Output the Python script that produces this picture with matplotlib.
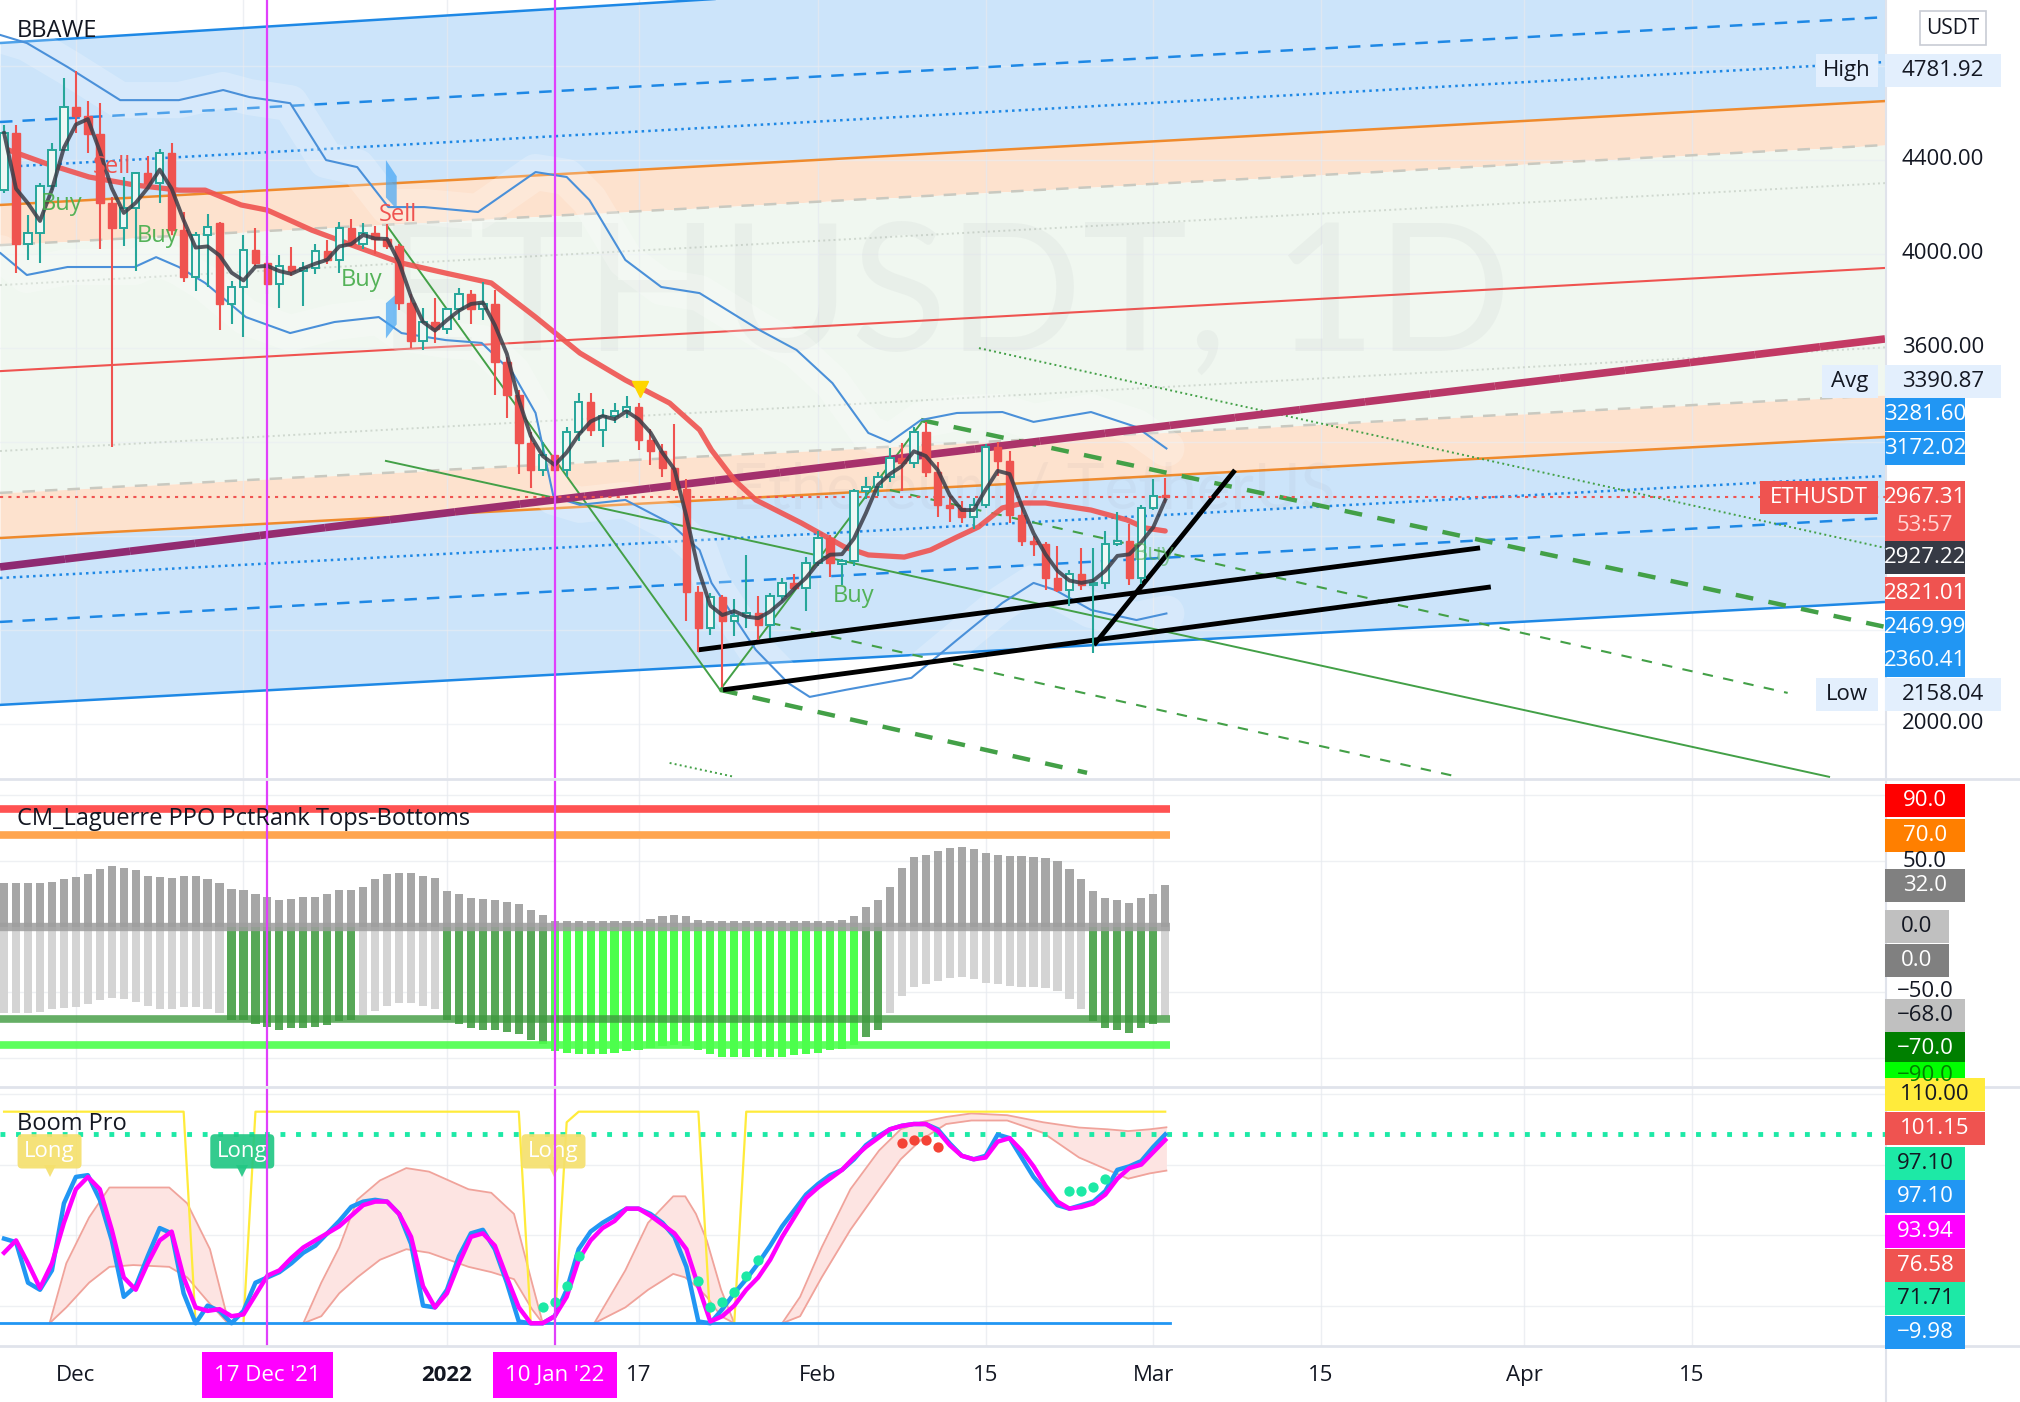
import numpy as np
import pandas as pd
import matplotlib.pyplot as plt
from matplotlib.patches import Rectangle, Polygon
from matplotlib.collections import LineCollection
from matplotlib.transforms import blended_transform_factory

plt.rcParams['font.family'] = ['Open Sans', 'DejaVu Sans']

# ---------------- data (day 0 = 1 Jan 2022, daily bars 25 Nov 2021 .. 2 Mar 2022)
day = np.arange(-37, 61)
op = [4271, 4514, 4040, 4090, 4290, 4441, 4624, 4586, 4510, 4215,
      4112, 4195, 4345, 4300, 4430, 4100, 3900, 4080, 4130, 3785,
      3860, 4016, 3960, 3870, 3950, 3925, 3940, 4010, 3975, 4110,
      4040, 4090, 4065, 4035, 3790, 3630, 3710, 3680, 3765, 3830,
      3765, 3785, 3540, 3400, 3195, 3080, 3145, 3080, 3240, 3370,
      3250, 3310, 3330, 3350, 3210, 3160, 3090, 3000, 2560, 2410,
      2540, 2440, 2460, 2470, 2420, 2545, 2600, 2580, 2685, 2790,
      2680, 2692, 2990, 3010, 3050, 3130, 3110, 3240, 3070, 2930,
      2920, 2880, 2930, 3180, 3120, 2890, 2780, 2765, 2620, 2570,
      2640, 2590, 2600, 2765, 2780, 2620, 2920, 2975]
hi = [4550, 4550, 4165, 4300, 4470, 4750, 4778, 4650, 4640, 4240,
      4325, 4350, 4415, 4445, 4470, 4180, 4095, 4170, 4135, 3885,
      4080, 4110, 3990, 3995, 4030, 3965, 4040, 4060, 4135, 4150,
      4130, 4120, 4125, 4040, 3830, 3770, 3812, 3770, 3855, 3845,
      3880, 3845, 3560, 3420, 3240, 3200, 3160, 3265, 3410, 3410,
      3340, 3365, 3395, 3365, 3255, 3190, 3275, 3040, 2585, 2555,
      2550, 2530, 2720, 2545, 2555, 2620, 2640, 2710, 2820, 2805,
      2700, 3000, 3050, 3070, 3175, 3197, 3265, 3285, 3115, 2970,
      2950, 2960, 3190, 3200, 3160, 2945, 2800, 2775, 2755, 2655,
      2750, 2750, 2820, 2900, 2850, 2930, 3040, 3045]
lo = [4260, 3918, 3975, 3960, 4270, 4436, 4514, 4430, 4020, 3180,
      4035, 3925, 4280, 4215, 4080, 3880, 3840, 3860, 3675, 3700,
      3646, 3950, 3830, 3770, 3905, 3780, 3915, 3955, 3920, 4030,
      4020, 4000, 4020, 3760, 3600, 3590, 3620, 3660, 3720, 3700,
      3720, 3400, 3300, 3065, 3005, 3055, 2965, 3050, 3205, 3225,
      3180, 3280, 3300, 3165, 3100, 3050, 2990, 2440, 2305, 2380,
      2158, 2375, 2410, 2355, 2365, 2525, 2570, 2480, 2670, 2625,
      2590, 2670, 2955, 2970, 3030, 2990, 3090, 3050, 2880, 2860,
      2855, 2830, 2920, 3055, 2855, 2755, 2715, 2570, 2560, 2500,
      2570, 2300, 2575, 2755, 2590, 2595, 2910, 2940]
cl = [4514, 4040, 4090, 4290, 4441, 4624, 4586, 4510, 4215, 4112,
      4195, 4345, 4300, 4430, 4100, 3900, 4080, 4115, 3785, 3860,
      4016, 3960, 3870, 3950, 3925, 3940, 4010, 3975, 4110, 4040,
      4090, 4065, 4035, 3790, 3630, 3710, 3680, 3765, 3830, 3765,
      3785, 3540, 3400, 3195, 3080, 3145, 3080, 3240, 3370, 3250,
      3310, 3330, 3350, 3210, 3160, 3090, 3000, 2560, 2410, 2540,
      2440, 2460, 2470, 2420, 2545, 2600, 2580, 2685, 2790, 2685,
      2692, 2990, 3010, 3050, 3130, 3110, 3240, 3070, 2930, 2920,
      2880, 2930, 3180, 3120, 2890, 2780, 2765, 2620, 2570, 2640,
      2590, 2600, 2765, 2780, 2620, 2920, 2970, 2967.31]

# moving average (red)
ma_day = [-37.3, -33.6, -29.9, -26.1, -22.4, -20.2, -17.2, -15.0, -11.3, -7.5, -3.8, -0.1,
          3.7, 7.4, 11.1, 14.9, 18.6, 21.1, 22.1, 24.0, 25.8, 29.6, 33.2, 35.2, 38.2,
          40.4, 42.6, 44.4, 46.4, 48.2, 50.0, 53.8, 56.8, 58.3, 60.0]
ma_val = [4454, 4386, 4327, 4293, 4271, 4271, 4208, 4186, 4101, 4029, 3961, 3918,
          3876, 3731, 3578, 3463, 3365, 3251, 3165, 3038, 2953, 2855, 2753, 2719, 2710,
          2740, 2795, 2838, 2919, 2940, 2940, 2910, 2868, 2834, 2821]

# bands
up_day = [-37.3, -35.1, -31.7, -27.3, -22.4, -18.7, -16.5, -13.1, -10.1, -7.5, -4.9, -1.9,
          2.6, 7.4, 10.0, 11.9, 14.9, 17.9, 21.1, 26.1, 29.2, 32.2, 35.2, 37.0, 39.6,
          42.6, 46.4, 49.0, 53.8, 57.6, 60.1]
up_val = [4931, 4897, 4795, 4654, 4654, 4697, 4667, 4641, 4399, 4369, 4199, 4199,
          4178, 4348, 4327, 4229, 3974, 3859, 3833, 3676, 3591, 3450, 3238, 3199, 3293,
          3323, 3327, 3285, 3327, 3263, 3172]
dn_day = [-37.3, -35.1, -31.7, -26.1, -24.3, -22.4, -20.2, -16.8, -13.1, -9.4, -5.7, -3.8,
          -0.1, 2.9, 5.5, 7.4, 8.9, 11.1, 14.9, 18.6, 21.1, 22.1, 25.8, 28.5, 30.3,
          33.3, 38.8, 42.6, 46.4, 49.0, 50.8, 53.8, 57.6, 60.1]
dn_val = [4003, 3910, 3944, 3944, 3986, 3944, 3876, 3731, 3663, 3710, 3731, 3663,
          3633, 3621, 3493, 3323, 2966, 2932, 2953, 2855, 2740, 2600, 2315, 2174, 2115,
          2145, 2196, 2357, 2515, 2600, 2570, 2485, 2442, 2470]

# channel lines: price at left edge / right edge
chan_left = {'top': 4897, 'bdash': 4561, 'bdot': 4369, 'or1': 4208, 'gdash1': 4037,
             'dot1': 3867, 'red': 3501, 'dot2': 3161, 'gdash2': 2983, 'or2': 2791,
             'bdot2': 2621, 'bdash2': 2434, 'bot': 2081}
chan_right = {'top': 5391, 'bdash': 5007, 'bdot': 4816, 'or1': 4650, 'gdash1': 4463,
              'dot1': 4301, 'red': 3940, 'dot2': 3602, 'gdash2': 3399, 'or2': 3221,
              'bdot2': 3055, 'bdash2': 2876, 'bot': 2519}
avg_line = (-37.34, 2668, 120.13, 3638)

# drawn trend lines (day0, price0, day1, price1)
green_solid = [(-5.10, 3119, 115.46, 1775), (-4.93, 4114, 22.81, 2145), (22.81, 2145, 39.6, 3280)]
green_dash_thick = [(22.81, 2145, 53.47, 1792), (39.6, 3293, 120.13, 2413)]
green_dash_thin = [(37.0, 2995, 112.0, 2132), (27.0, 2430, 84.46, 1775)]
green_dot = [(44.44, 3599, 120.13, 2749), (18.6, 1834, 24.0, 1775)]
black_lines = [(20.97, 2315, 86.3, 2749), (23.06, 2145, 87.2, 2583), (54.05, 2336, 65.83, 3080)]

buy_pts = [(-32.2, 4212), (-24.2, 4076), (-7.1, 3889), (34.0, 2544), (59.0, 2723)]
sell_pts = [(-28.0, 4369), (-4.1, 4165)]
marks = [-15, 9]            # 17 Dec '21, 10 Jan '22

# CM_Laguerre PPO PctRank
pct_top = [33, 33, 33, 33, 34, 36, 38, 40, 44, 46,
           45, 43, 39, 38, 37, 39, 39, 36, 33, 29,
           28, 25, 23, 20, 21, 23, 23, 25, 28, 28,
           30, 36, 40, 41, 41, 39, 37, 27, 25, 22,
           21, 20, 19, 17, 13, 9, 4, 4, 4, 4,
           4, 4, 4, 4, 6, 8, 9, 8, 5, 4,
           4, 4, 4, 4, 4, 4, 4, 4, 4, 4,
           5, 8, 15, 20, 30, 45, 53, 55, 58, 60,
           61, 59, 56, 55, 54, 54, 53, 52, 50, 44,
           36, 27, 22, 20, 18, 22, 25, 32]
pct_bot = [-66, -66, -66, -65, -63, -62, -61, -59, -56, -54,
           -55, -57, -60, -63, -63, -61, -61, -63, -66, -71,
           -71, -74, -76, -79, -77, -77, -76, -75, -72, -71,
           -67, -64, -60, -58, -58, -60, -63, -71, -74, -77,
           -79, -79, -80, -82, -86, -89, -95, -96, -97, -97,
           -97, -96, -95, -94, -92, -91, -90, -91, -94, -97,
           -99, -99, -99, -99, -99, -99, -98, -97, -96, -94,
           -93, -90, -84, -79, -66, -53, -46, -44, -41, -39,
           -38, -40, -43, -44, -45, -46, -46, -47, -49, -55,
           -63, -72, -77, -79, -81, -77, -74, -68]

# Boom Pro
boom_fast = [38, 36, 13, 9, 20, 58, 73, 74, 60, 37,
             5, 11, 28, 44, 41, 7, -10, 0, -3, -10,
             -3, 13, 16, 19, 24, 30, 34, 41, 48, 56,
             59, 60, 59, 52, 35, 0, -1, 9, 28, 41,
             43, 32, 13, -9, -10, -10, -6, 9, 32, 42,
             47, 51, 55, 55, 52, 47, 39, 22, -9, -10,
             -2, 7, 15, 24, 34, 45, 54, 63, 69, 74,
             77, 83, 91, 96, 100, 102, 103, 103, 100, 92,
             85, 83, 85, 97, 95, 84, 73, 65, 57, 55,
             57, 59, 65, 77, 79, 82, 90, 97.1]
boom_slow = [30, 37, 24, 10, 24, 47, 66, 73, 66, 43,
             16, 9, 24, 37, 42, 16, -1, -3, -2, -6,
             -5, 6, 17, 20, 27, 33, 37, 41, 45, 51,
             57, 59, 59, 52, 39, 11, -1, 7, 24, 39,
             41, 34, 16, -1, -10, -10, -6, 5, 26, 37,
             44, 48, 55, 55, 51, 46, 41, 32, 11, -9,
             -6, 0, 9, 16, 26, 39, 50, 61, 67, 72,
             77, 84, 90, 95, 100, 102, 103, 103, 99, 91,
             85, 83, 84, 93, 95, 88, 79, 68, 59, 55,
             56, 58, 63, 72, 78, 80, 87, 93.94]
boom_trend = [110] * 16 + [-10] * 5 + [110] * 23 + [-10] * 3 + [104] + [110] * 11 + [-10] * 3 + [110] * 36
cloud_day = [[-33.2, -31.8, -29.9, -28.2, -26.2, -23.2, -21.7, -19.8, -18.3, -17.9],
             [-12.0, -10.5, -9.0, -7.5, -5.6, -3.4, -1.5, 1.8, 3.7, 5.6, 7.1, 8.0],
             [12.3, 14.9, 16.8, 18.9, 19.9, 20.8, 21.7, 22.9, 24.0],
             [28.0, 29.5, 31.3, 33.7, 36.1, 37.9, 39.6, 41.7, 43.8, 46.8, 49.8, 52.8, 55.2, 56.9, 58.7, 60.1]]
cloud_hi = [[-10, 24, 50, 67, 67, 67, 58, 32, -8, -10],
            [-10, 13, 33, 60, 71, 78, 76, 66, 64, 52, 13, -10],
            [-10, 20, 47, 62, 62, 52, 37, 9, -10],
            [-10, 5, 33, 66, 88, 100, 104, 107, 109, 108, 104, 101, 100, 99, 100, 101.15]]
cloud_lo = [[-10, -1, 13, 22, 23, 22, 16, 1, -10, -10],
            [-10, -6, 7, 16, 26, 32, 30, 22, 19, 15, -2, -10],
            [-10, -1, 9, 18, 16, 11, 5, -6, -10],
            [-10, -6, 16, 43, 66, 83, 94, 103, 105, 105, 98, 84, 77, 72, 75, 76.58]]
teal_day = [8, 9, 10, 11, 21, 22, 23, 24, 25, 26, 52, 53, 54, 55]
teal_val = [-1, 2, 11, 28, 14, -1, 2, 8, 17, 26, 65, 65, 67, 72]
red_day = [38, 39, 40, 41]
red_val = [92, 94, 94, 90]
long_day = [-33.2, -17.1, 8.9]
long_col = ['#f5e06e', '#22c784', '#f5e06e']

xtick_day = [-31, 0, 16, 31, 45, 59, 73, 90, 104]
xtick_lab = ['Dec', '2022', '17', 'Feb', '15', 'Mar', '15', 'Apr', '15']
grid_day = [-31, -17, 0, 16, 31, 45, 59, 73, 90, 104]

# ---------------- figure
W, H = 2020, 1402
fig = plt.figure(figsize=(W / 100, H / 100), dpi=100)
fig.patch.set_facecolor('white')


def px_axes(x0, y0, x1, y1):
    return fig.add_axes([x0 / W, 1 - y1 / H, (x1 - x0) / W, (y1 - y0) / H])


ax1 = px_axes(0, 0, 1885, 778)
ax2 = px_axes(0, 779, 1885, 1086)
ax3 = px_axes(0, 1087, 1885, 1346)
XL = (-37.34, 120.13)
for a in (ax1, ax2, ax3):
    a.set_xlim(*XL)
    a.set_xticks([])
    a.set_yticks([])
    for s in a.spines.values():
        s.set_visible(False)
    for g in grid_day:
        a.axvline(g, color='#e6e9ef', lw=1, alpha=0.7, zorder=1.2)
    for m in marks:
        a.axvline(m, color='#e040fb', lw=1.6, zorder=9)
ax1.set_ylim(1770, 5080)
ax2.set_ylim(-121.3, 112.5)
ax3.set_ylim(-22.9, 124.0)

# panel separators / price scale border
for yy in (778.5, 1086.5, 1346):
    fig.add_artist(plt.Line2D([0, 1], [1 - yy / H] * 2, color='#e0e3eb', lw=2))
fig.add_artist(plt.Line2D([1885.5 / W] * 2, [0, 1], color='#e0e3eb', lw=1.5))

# ---------------- main panel
xs = np.array(XL)


def cline(k):
    return np.array([chan_left[k], chan_right[k]])


ax1.fill_between(xs, cline('top'), cline('or1'), color='#cce4fa', lw=0, zorder=1)
ax1.fill_between(xs, cline('or1'), cline('gdash1'), color='#fde2ce', lw=0, zorder=1)
ax1.fill_between(xs, cline('gdash1'), cline('gdash2'), color='#f0f7f0', lw=0, zorder=1)
ax1.fill_between(xs, cline('gdash2'), cline('or2'), color='#fde2ce', lw=0, zorder=1)
ax1.fill_between(xs, cline('or2'), cline('bot'), color='#cce4fa', lw=0, zorder=1)
for p in range(2000, 5000, 400):
    ax1.axhline(p, color='#e9edf3', lw=1, alpha=0.6, zorder=1.2)

styles = {'top': ('#1e88e5', '-', 1.8), 'bdash': ('#1e88e5', (0, (5, 4)), 1.8),
          'bdot': ('#1e88e5', ':', 1.8), 'or1': ('#ef8a2c', '-', 1.8),
          'gdash1': ('#c9c9c0', (0, (5, 4)), 1.8), 'dot1': ('#cfd8cf', ':', 1.4),
          'red': ('#ef5350', '-', 1.5), 'dot2': ('#cfd8cf', ':', 1.4),
          'gdash2': ('#c9c9c0', (0, (5, 4)), 1.8), 'or2': ('#ef8a2c', '-', 1.8),
          'bdot2': ('#1e88e5', ':', 1.8), 'bdash2': ('#1e88e5', (0, (5, 4)), 1.8),
          'bot': ('#1e88e5', '-', 1.8)}
for k, (col, ls, lw) in styles.items():
    ax1.plot(xs, cline(k), color=col, ls=ls, lw=lw, zorder=2)

# watermark
ax1.text(41.5, 3800, 'ETHUSDT, 1D', fontsize=128, family=['Lato', 'DejaVu Sans'],
         color='#787b86', alpha=0.06, ha='center', va='center', zorder=2.2)
ax1.text(49, 2990, 'Ethereum / TetherUS', fontsize=46, family=['Lato', 'DejaVu Sans'],
         color='#787b86', alpha=0.06, ha='center', va='center', zorder=2.2)

# thick avg line with colour gradient
seg_x = np.linspace(avg_line[0], avg_line[2], 30)
seg_y = np.linspace(avg_line[1], avg_line[3], 30)
pts = np.array([seg_x, seg_y]).T.reshape(-1, 1, 2)
segs = np.concatenate([pts[:-1], pts[1:]], axis=1)
cols = plt.matplotlib.colors.LinearSegmentedColormap.from_list('av', ['#8e2a72', '#c43a64'])(np.linspace(0, 1, len(segs)))
ax1.add_collection(LineCollection(segs, colors=cols, linewidths=5.5, zorder=4, capstyle='butt'))

# trend lines
for d0, p0, d1, p1 in green_solid:
    ax1.plot([d0, d1], [p0, p1], color='#43a047', lw=1.4, zorder=3.5)
for d0, p0, d1, p1 in green_dash_thick:
    ax1.plot([d0, d1], [p0, p1], color='#43a047', lw=3.2, ls=(0, (4, 3.5)), zorder=3.5)
for d0, p0, d1, p1 in green_dash_thin:
    ax1.plot([d0, d1], [p0, p1], color='#43a047', lw=1.5, ls=(0, (5, 5)), zorder=3.5)
for d0, p0, d1, p1 in green_dot:
    ax1.plot([d0, d1], [p0, p1], color='#43a047', lw=1.4, ls=':', zorder=3.5)

# bands with soft white glow
ax1.plot(up_day, up_val, color='white', lw=26, alpha=0.22, zorder=3, solid_capstyle='round')
ax1.plot(dn_day, dn_val, color='white', lw=26, alpha=0.22, zorder=3, solid_capstyle='round')
ax1.plot(up_day, up_val, color='#4a90d9', lw=1.5, zorder=3.6)
ax1.plot(dn_day, dn_val, color='#4a90d9', lw=1.5, zorder=3.6)

for d0, p0, d1, p1 in black_lines:
    ax1.plot([d0, d1], [p0, p1], color='black', lw=3.5, zorder=4.5, solid_capstyle='butt')

# small blue wedges
ax1.add_patch(Polygon([(-5.1, 4399), (-4.2, 4330), (-4.2, 4190), (-5.1, 4240)], closed=True,
                      fc='#42a5f5', ec='none', alpha=0.7, zorder=4))
ax1.add_patch(Polygon([(-5.1, 3790), (-4.2, 3830), (-4.2, 3700), (-5.1, 3640)], closed=True,
                      fc='#42a5f5', ec='none', alpha=0.7, zorder=4))

# red MA
ax1.plot(ma_day, ma_val, color='#ef5350', lw=3.8, alpha=0.9, zorder=5, solid_capstyle='round')

# candles
df = pd.DataFrame({'d': day, 'o': op, 'h': hi, 'l': lo, 'c': cl})
up = df[df.c >= df.o]
dn = df[df.c < df.o]
ax1.vlines(up.d, up.l, up.h, color='#26a69a', lw=1.5, zorder=6)
ax1.vlines(dn.d, dn.l, dn.h, color='#ef5350', lw=1.5, zorder=6)
ax1.bar(up.d, (up.c - up.o).clip(lower=6), bottom=up.o, width=0.62, facecolor='#eef7f5',
        edgecolor='#26a69a', lw=1.4, zorder=6.5)
ax1.bar(dn.d, (dn.o - dn.c).clip(lower=6), bottom=dn.c, width=0.62, color='#ef5350',
        edgecolor='#ef5350', lw=1, zorder=6.5)
fast = df.c.rolling(3, min_periods=1).mean()
ax1.plot(df.d, fast, color='#3b3d48', lw=2.8, alpha=0.85, zorder=7)

ax1.axhline(cl[-1], color='#ef5350', lw=1.5, ls=(0, (1.5, 2.5)), zorder=5)
ax1.plot([16.1], [3425], marker='v', ms=11, color='#ffd600', zorder=8)

for d, p in buy_pts:
    ax1.text(d, p, 'Buy', color='#4caf50', fontsize=17, ha='center', va='center', zorder=8,
             alpha=0.95 if d < 50 else 0.6)
for d, p in sell_pts:
    ax1.text(d, p, 'Sell', color='#ef5350', fontsize=17, ha='center', va='center', zorder=8)

ax1.text(17 / 1885, 1 - 31 / 778, 'BBAWE', transform=ax1.transAxes, fontsize=17,
         color='#131722', va='center', ha='left', zorder=10)

# ---------------- CM_Laguerre panel
bot_cols = ['#4cff4c' if v <= -90 else ('#57a857' if v <= -70 else '#d4d4d4') for v in pct_bot]
ax2.bar(day, pct_top, width=0.68, color='#a6a6a6', zorder=3)
ax2.bar(day, pct_bot, width=0.68, color=bot_cols, zorder=3)
for g in (-100, -50, 50, 100):
    ax2.axhline(g, color='#eef0f3', lw=1, zorder=1)
lx = [XL[0], 60.4]
ax2.plot(lx, [90, 90], color='#ff5252', lw=5.5, zorder=4, solid_capstyle='butt')
ax2.plot(lx, [70, 70], color='#ffa54f', lw=5.5, zorder=4, solid_capstyle='butt')
ax2.plot(lx, [0, 0], color='#9e9e9e', lw=6, alpha=0.85, zorder=4, solid_capstyle='butt')
ax2.plot(lx, [-70, -70], color='#3f9a3f', lw=5.5, alpha=0.8, zorder=4, solid_capstyle='butt')
ax2.plot(lx, [-90, -90], color='#4cff4c', lw=5.5, alpha=0.9, zorder=4, solid_capstyle='butt')
ax2.text(17 / 1885, 1 - 40 / 307, 'CM_Laguerre PPO PctRank Tops-Bottoms', transform=ax2.transAxes,
         fontsize=17, color='#131722', va='center', ha='left', zorder=10)

# ---------------- Boom Pro panel
for g in (0, 40, 80, 120):
    ax3.axhline(g, color='#eef0f3', lw=1, zorder=1)
for cd, chi, clo in zip(cloud_day, cloud_hi, cloud_lo):
    ax3.fill_between(cd, chi, clo, color='#fde4e2', lw=0, zorder=2)
    ax3.plot(cd, chi, color='#f0a39b', lw=1.3, zorder=2.5)
    ax3.plot(cd, clo, color='#f0a39b', lw=1.3, zorder=2.5)
ax3.plot(day, boom_trend, color='#ffeb3b', lw=1.6, zorder=3)
ax3.plot([XL[0], 60.4], [-9.98, -9.98], color='#2196f3', lw=2, zorder=3)
ax3.axhline(97.1, color='#1de9a6', lw=3.5, ls=(0, (1, 2.2)), zorder=3)
ax3.plot(day, boom_fast, color='#2196f3', lw=3.2, zorder=4)
ax3.plot(day, boom_slow, color='#ff00ff', lw=3.2, zorder=4.5)
ax3.scatter(teal_day, teal_val, s=55, color='#1de9a6', zorder=5, lw=0)
ax3.scatter(red_day, red_val, s=55, color='#f44336', zorder=5, lw=0)
for d, fc in zip(long_day, long_col):
    ax3.text(d, 87.5, 'Long', ha='center', va='center', fontsize=16, color='white',
             bbox=dict(boxstyle='round,pad=0.3,rounding_size=0.2', fc=fc, ec='none', alpha=0.92),
             zorder=6)
    ax3.plot([d], [76.5], marker='v', ms=8, color=fc, alpha=0.92, zorder=6, mew=0)
ax3.text(17 / 1885, 1 - 37 / 259, 'Boom Pro', transform=ax3.transAxes, fontsize=17,
         color='#131722', va='center', ha='left', zorder=10)

# ---------------- x axis labels
tx = blended_transform_factory(ax3.transData, ax3.transAxes)
for d, s in zip(xtick_day, xtick_lab):
    ax3.text(d, -0.112, s, transform=tx, ha='center', va='center', fontsize=16,
             color='#131722', fontweight='bold' if s == '2022' else 'normal', clip_on=False)
for d, s in zip(marks, ["17 Dec '21", "10 Jan '22"]):
    ax3.text(d, -0.112, s, transform=tx, ha='center', va='center', fontsize=16, color='white',
             clip_on=False, zorder=12,
             bbox=dict(boxstyle='square,pad=0.55', fc='#ff00ff', ec='none'))


# ---------------- right scale labels
def side(ax, val, txt, fc='none', tc='#131722', w=80, h=33, fs=16, x0=1885, ec='none'):
    yp = ax.transData.transform((0, val))[1]
    if fc != 'none':
        fig.add_artist(Rectangle((x0 / W, (yp - h / 2) / H), w / W, h / H, transform=fig.transFigure,
                                 fc=fc, ec=ec, lw=1.2, zorder=20))
    fig.text((x0 + w / 2) / W, yp / H, txt, ha='center', va='center', color=tc, fontsize=fs, zorder=21)


for p in (4400, 4000, 3600, 2000):
    side(ax1, p, '%.2f' % p, w=116)
side(ax1, 4959, 'USDT', fc='white', ec='#c8ccd4', w=66, h=34, fs=15, x0=1920)
side(ax1, 4778, '4781.92', fc='#e3effd', w=116)
side(ax1, 4778, 'High', fc='#e3effd', w=62, x0=1816)
side(ax1, 3458, '3390.87', fc='#e3effd', w=116)
side(ax1, 3458, 'Avg', fc='#e3effd', w=56, x0=1822)
side(ax1, 3315, '3281.60', fc='#2196f3', tc='white')
side(ax1, 3173, '3172.02', fc='#2196f3', tc='white')
side(ax1, 2964, '2967.31', fc='#ef5350', tc='white')
side(ax1, 2844, '53:57', fc='#ef5350', tc='#ffd6d5')
side(ax1, 2964, 'ETHUSDT', fc='#ef5350', tc='white', w=118, x0=1760)
side(ax1, 2707, '2927.22', fc='#363a45', tc='white')
side(ax1, 2553, '2821.01', fc='#ef5350', tc='white')
side(ax1, 2411, '2469.99', fc='#2196f3', tc='white')
side(ax1, 2268, '2360.41', fc='#2196f3', tc='white')
side(ax1, 2126, '2158.04', fc='#e3effd', w=116)
side(ax1, 2126, 'Low', fc='#e3effd', w=62, x0=1816)

side(ax2, 96.1, '90.0', fc='#ff0000', tc='white')
side(ax2, 69.6, '70.0', fc='#ff7f00', tc='white')
side(ax2, 50, '50.0')
side(ax2, 31.4, '32.0', fc='#808080', tc='white')
side(ax2, 0, '0.0', fc='#c0c0c0', w=64)
side(ax2, -25.5, '0.0', fc='#808080', tc='white', w=64)
side(ax2, -49, '\u221250.0')
side(ax2, -67.6, '\u221268.0', fc='#c0c0c0')
side(ax2, -93, '\u221270.0', fc='#007f00', tc='white')
side(ax2, -113, '\u221290.0', fc='#00ff00', tc='#007f00', h=26)

side(ax3, 119.5, '110.00', fc='#ffeb3b', w=100)
side(ax3, 100.5, '101.15', fc='#ef5350', tc='white', w=100)
side(ax3, 80.7, '97.10', fc='#1de9a6')
side(ax3, 61.7, '97.10', fc='#2196f3', tc='white')
side(ax3, 42, '93.94', fc='#ff00ff', tc='white')
side(ax3, 23, '76.58', fc='#ef5350', tc='white')
side(ax3, 3.9, '71.71', fc='#1de9a6')
side(ax3, -15.1, '\u22129.98', fc='#2196f3', tc='white')

fig.savefig('out.png', dpi=100)
